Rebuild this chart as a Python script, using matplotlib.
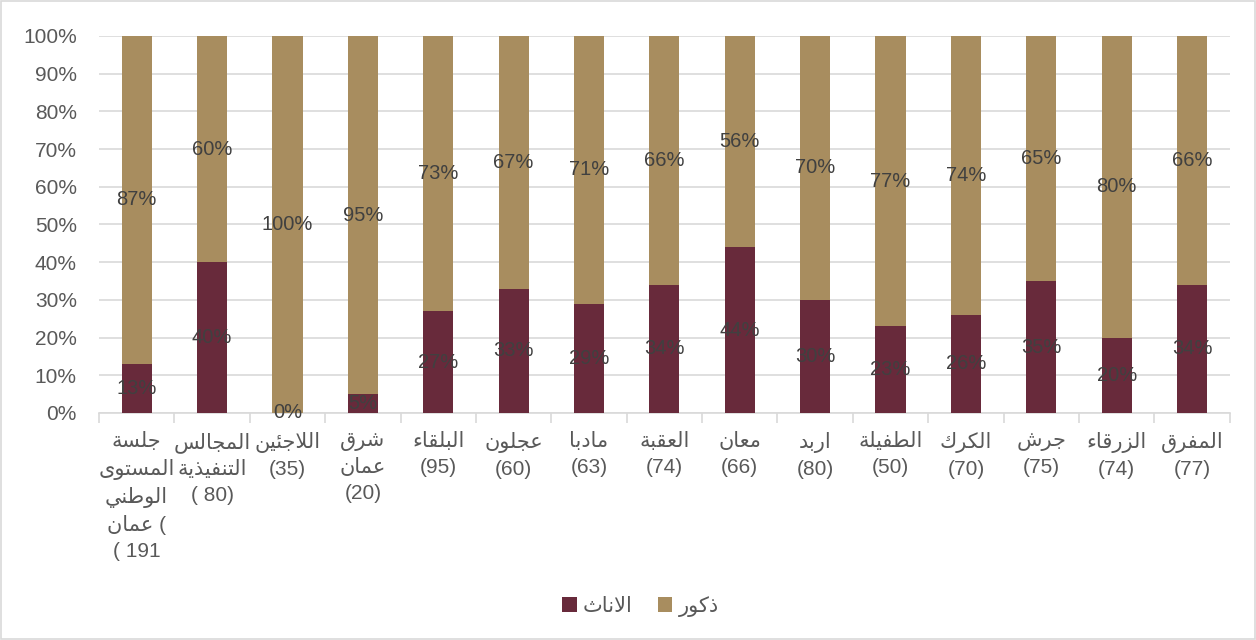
import numpy as np
import matplotlib
matplotlib.use("Agg")
import matplotlib.pyplot as plt
from matplotlib.patches import Rectangle

plt.rcParams['font.family'] = ['Liberation Sans', 'DejaVu Sans']

# --- data -----------------------------------------------------------------
names = ["جلسة\nالمستوى\nالوطني\nعمان", "المجالس\nالتنفيذية", "اللاجئين", "شرق\nعمان",
         "البلقاء", "عجلون", "مادبا", "العقبة", "معان", "اربد",
         "الطفيلة", "الكرك", "جرش", "الزرقاء", "المفرق"]
counts = ["( 191", "( 80)", "(35)", "(20)", "(95)", "(60)", "(63)", "(74)",
          "(66)", "(80)", "(50)", "(70)", "(75)", "(74)", "(77)"]
female = [13, 40, 0, 5, 27, 33, 29, 34, 44, 30, 23, 26, 35, 20, 34]
male = [87, 60, 100, 95, 73, 67, 71, 66, 56, 70, 77, 74, 65, 80, 66]
series_names = ["الاناث", "ذكور"]

# --- minimal arabic shaping (presentation forms + visual order) -----------
BASE = {'ء': 0xFE80, 'آ': 0xFE81, 'أ': 0xFE83, 'ؤ': 0xFE85, 'إ': 0xFE87, 'ئ': 0xFE89,
        'ا': 0xFE8D, 'ب': 0xFE8F, 'ة': 0xFE93, 'ت': 0xFE95, 'ث': 0xFE99, 'ج': 0xFE9D,
        'ح': 0xFEA1, 'خ': 0xFEA5, 'د': 0xFEA9, 'ذ': 0xFEAB, 'ر': 0xFEAD, 'ز': 0xFEAF,
        'س': 0xFEB1, 'ش': 0xFEB5, 'ص': 0xFEB9, 'ض': 0xFEBD, 'ط': 0xFEC1, 'ظ': 0xFEC5,
        'ع': 0xFEC9, 'غ': 0xFECD, 'ف': 0xFED1, 'ق': 0xFED5, 'ك': 0xFED9, 'ل': 0xFEDD,
        'م': 0xFEE1, 'ن': 0xFEE5, 'ه': 0xFEE9, 'و': 0xFEED, 'ى': 0xFEEF, 'ي': 0xFEF1}
DUAL = set("ئبتثجحخسشصضطظعغفقكلمنهي")
LAMALEF = {'ا': 0xFEFB, 'أ': 0xFEF7, 'إ': 0xFEF9, 'آ': 0xFEF5}


def shape_line(s):
    out = []
    prev = False
    i = 0
    while i < len(s):
        c = s[i]
        if c == 'ل' and i + 1 < len(s) and s[i + 1] in LAMALEF:
            out.append(chr(LAMALEF[s[i + 1]] + (1 if prev else 0)))
            prev = False
            i += 2
            continue
        if c not in BASE or c == 'ء':
            out.append(chr(BASE[c]) if c == 'ء' else c)
            prev = False
            i += 1
            continue
        nxt = s[i + 1] if i + 1 < len(s) else ''
        nj = c in DUAL and nxt in BASE and nxt != 'ء'
        b = BASE[c]
        if prev and nj:
            g = b + 3
        elif prev:
            g = b + 1
        elif nj:
            g = b + 2
        else:
            g = b
        out.append(chr(g))
        prev = c in DUAL
        i += 1
    return ''.join(out)[::-1]


def ar(s):
    return '\n'.join(shape_line(l) for l in s.split('\n'))


labels = []
for i, (n, c) in enumerate(zip(names, counts)):
    txt = ar(n)
    if i == 0:
        txt = txt + " (\n" + c
    else:
        txt = txt + "\n" + c
    labels.append(txt)

# --- plot -----------------------------------------------------------------
c_f = "#682A3B"
c_m = "#A88D5F"
grey = "#595959"

fig = plt.figure(figsize=(12.56, 6.4), dpi=100)
ax = fig.add_axes([0.0788, 0.3547, 0.9003, 0.5891])

x = np.arange(len(female))
w = 0.4
b1 = ax.bar(x, female, w, color=c_f, label=ar(series_names[0]), zorder=3)
b2 = ax.bar(x, male, w, bottom=female, color=c_m, label=ar(series_names[1]), zorder=3)

for i in range(len(x)):
    ax.text(x[i], female[i] / 2, f"{female[i]}%", ha='center', va='center',
            fontsize=14.5, color="#404040", zorder=4)
    ax.text(x[i], female[i] + male[i] / 2, f"{male[i]}%", ha='center', va='center',
            fontsize=14.5, color="#404040", zorder=4)

ax.set_xlim(-0.5, len(x) - 0.5)
ax.set_ylim(0, 100)
ax.set_yticks(np.arange(0, 101, 10))
ax.set_yticklabels([f"{v}%" for v in range(0, 101, 10)])
ax.yaxis.grid(True, color="#D9D9D9", linewidth=1.2, zorder=0)
ax.tick_params(axis='y', length=0, pad=16, labelsize=15, labelcolor=grey)

ax.set_xticks(x)
ax.set_xticklabels(labels, fontsize=15, color=grey, linespacing=1.45, va='top')
ax.set_xticks(np.arange(-0.5, len(x), 1), minor=True)
ax.tick_params(axis='x', which='major', length=0, pad=14)
ax.tick_params(axis='x', which='minor', length=7, color="#D9D9D9", width=1.2)

for s in ['top', 'right', 'left']:
    ax.spines[s].set_visible(False)
ax.spines['bottom'].set_color("#D9D9D9")
ax.spines['bottom'].set_linewidth(1.2)

leg = fig.legend(handles=[b1, b2], loc='center', bbox_to_anchor=(0.51, 0.053), ncol=2,
                 frameon=False, fontsize=15, handlelength=0.7, handleheight=0.7,
                 handletextpad=0.3, columnspacing=1.2)
for t in leg.get_texts():
    t.set_color(grey)

fig.patches.append(Rectangle((0.0008, 0.001), 0.9984, 0.997, transform=fig.transFigure,
                             fill=False, edgecolor="#D9D9D9", linewidth=1.2))

fig.savefig("out.png", dpi=100)
